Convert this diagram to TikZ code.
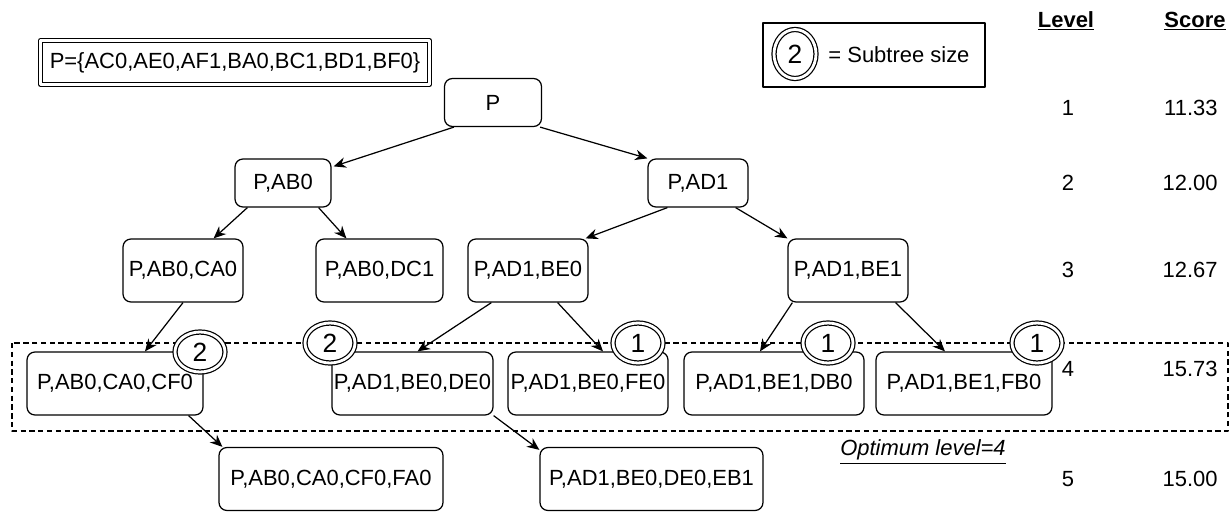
\documentclass[tikz,border=0pt]{standalone}
\usepackage{fontspec}
\setmainfont{Liberation Sans}
\usetikzlibrary{arrows.meta,shapes.geometric,calc}
\tikzset{
  box/.style={draw, rounded corners=4.5pt, inner sep=0pt, minimum height=0.96cm},
  tallbox/.style={box, minimum height=1.26cm},
  sub/.style={draw, ellipse, double, double distance=1.6pt, fill=white, inner sep=0pt,
    minimum width=1.0cm, minimum height=0.8cm, font=\fontsize{15}{17}\selectfont},
}
\begin{document}
\begin{tikzpicture}[x=0.02cm, y=-0.02cm, line width=0.7pt, line join=round,
    >={Stealth[length=7pt,width=6pt]}, font=\fontsize{12.5}{15}\selectfont]
	\useasboundingbox (0,0) rectangle (1231,514);
	% set of pairs and legend
	\node[draw, double, double distance=1.5pt, minimum width=7.78cm, minimum height=0.88cm, inner sep=0pt] (set) at (235,62.5) {P=\{AC0,AE0,AF1,BA0,BC1,BD1,BF0\}};
	\draw (763,23) rectangle (985,87);
	\node[sub, minimum width=0.84cm, minimum height=0.98cm] (key) at (795,54) {2};
	\node[anchor=west] (keytxt) at (822,55) {= Subtree size};
	% tree
	\node[box, minimum width=1.94cm] (P) at (493,102.5) {P};
	\node[box, minimum width=1.92cm] (AB0) at (283,183) {P,AB0};
	\node[box, minimum width=2.0cm] (AD1) at (698,183) {P,AD1};
	\node[tallbox, minimum width=2.4cm] (CA0) at (183,270.5) {P,AB0,CA0};
	\node[tallbox, minimum width=2.54cm] (DC1) at (379.5,270.5) {P,AB0,DC1};
	\node[tallbox, minimum width=2.4cm] (BE0) at (528,270.5) {P,AD1,BE0};
	\node[tallbox, minimum width=2.4cm] (BE1) at (848,270.5) {P,AD1,BE1};
	\draw[dashed, dash pattern=on 3pt off 2pt, line width=0.6pt] (12,343) rectangle (1228,431);
	\node[tallbox, fill=white, minimum width=3.52cm] (CF0) at (115,383.5) {P,AB0,CA0,CF0};
	\node[tallbox, fill=white, minimum width=3.22cm] (DE0) at (412.5,383.5) {P,AD1,BE0,DE0};
	\node[tallbox, fill=white, minimum width=3.2cm] (FE0) at (588,383.5) {P,AD1,BE0,FE0};
	\node[tallbox, fill=white, minimum width=3.6cm] (DB0) at (774,383.5) {P,AD1,BE1,DB0};
	\node[tallbox, fill=white, minimum width=3.52cm] (FB0) at (964,383.5) {P,AD1,BE1,FB0};
	\node[tallbox, minimum width=4.48cm] (FA0) at (331,479) {P,AB0,CA0,CF0,FA0};
	\node[tallbox, minimum width=4.46cm] (EB1) at (651.5,479) {P,AD1,BE0,DE0,EB1};
	% edges
	\draw[->] ($(P.south west)+(10,0)$) -- ($(AB0.north east)+(2,8)$);
	\draw[->] ($(P.south east)+(-2,0)$) -- (AD1.north west);
	\draw[->] ($(AB0.south west)+(13,0)$) -- ($(CA0.north east)+(-30,0)$);
	\draw[->] ($(AB0.south east)+(-13,0)$) -- ($(DC1.north west)+(31,0)$);
	\draw[->] ($(AD1.south west)+(20,0)$) -- ($(BE0.north east)+(-3,0)$);
	\draw[->] ($(AD1.south east)+(-13,0)$) -- (BE1.north west);
	\draw[->] (CA0.south) -- ($(CF0.north)+(30,0)$);
	\draw[->] ($(BE0.south west)+(24,0)$) -- ($(DE0.north)+(5,0)$);
	\draw[->] ($(BE0.south east)+(-31,0)$) -- ($(FE0.north)+(15,0)$);
	\draw[->] ($(BE1.south west)+(5,0)$) -- ($(DB0.north)+(-14,0)$);
	\draw[->] ($(BE1.south east)+(-13,0)$) -- ($(FB0.north)+(-19,0)$);
	\draw[->] ($(CF0.south east)+(-15,0)$) -- ($(FA0.north west)+(4,0)$);
	\draw[->] (DE0.south east) -- ($(EB1.north west)+(0,3)$);
	% subtree sizes
	\node[sub] (n1) at (200,352) {2};
	\node[sub] (n2) at (330,343) {2};
	\node[sub] (n3) at (638,343) {1};
	\node[sub] (n4) at (828,343) {1};
	\node[sub] (n5) at (1037,343) {1};
	% levels and scores
	\node[anchor=base] (lvl) at (1066,27) {\underline{\textbf{Level}}};
	\node[anchor=base] (scr) at (1195,27) {\underline{\textbf{Score}}};
	\foreach \lv/\sc/\y in {1/11.33/108, 2/12.00/183, 3/12.67/270, 4/15.73/369, 5/15.00/479} {
		\node (lv\lv) at (1068,\y) {\lv};
		\node[anchor=east] (sc\lv) at (1224,\y) {\sc};
	}
	\node (opt) at (923,452) {\underline{\textit{Optimum level=4}}};
\end{tikzpicture}
\end{document}
